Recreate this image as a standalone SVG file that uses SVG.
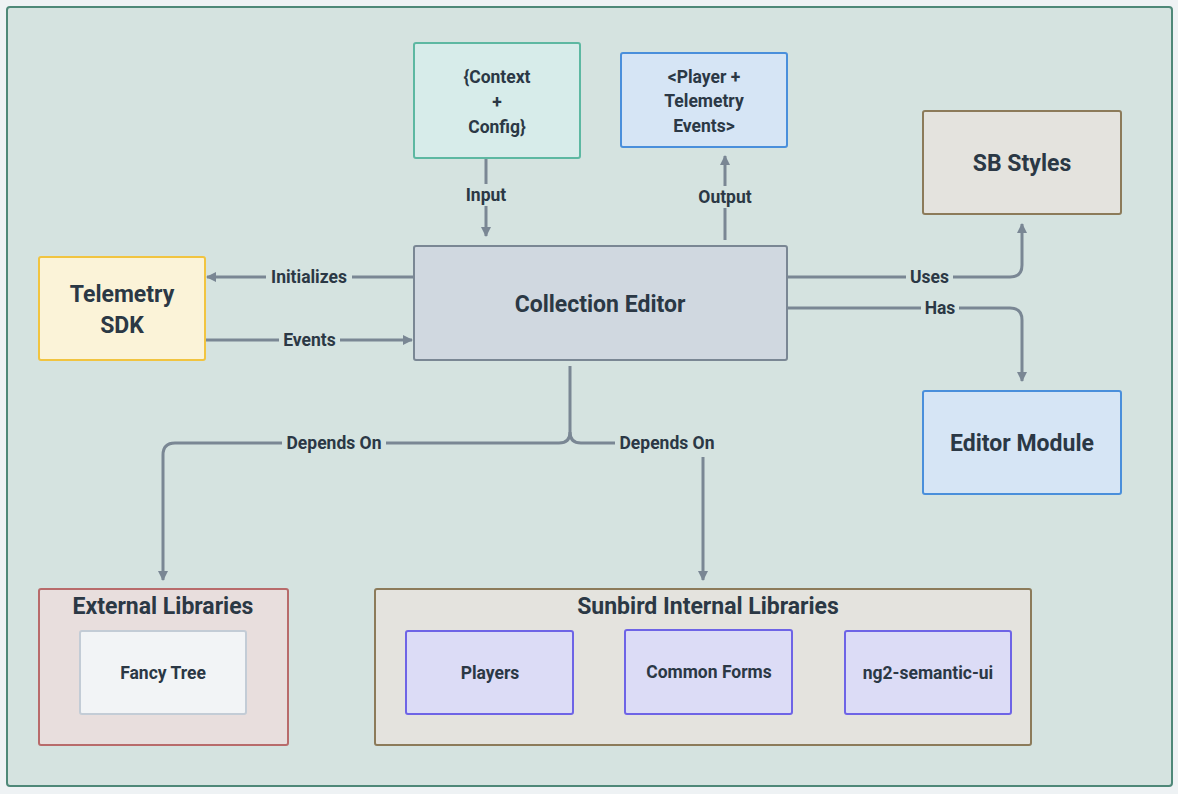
<svg xmlns="http://www.w3.org/2000/svg" width="1178" height="794" viewBox="0 0 1178 794">
<defs>
<marker id="ah" viewBox="0 0 10 10" refX="9" refY="5" markerWidth="10" markerHeight="10" markerUnits="userSpaceOnUse" orient="auto">
<path d="M0,0 L10,5 L0,10 z" fill="#7a8794"/>
</marker>
<style>
text{font-family:"Roboto","Lato","Liberation Sans",sans-serif;font-weight:700;fill:#2b3845;text-anchor:middle;dominant-baseline:central}
.t20{font-size:23px}
.t15{font-size:17.5px}
.t16{font-size:17.5px}
.lbl{font-size:17.5px}
.lb{fill:#d5e3e0}
.c{fill:none;stroke:#7a8794;stroke-width:3}
.n{stroke-width:2}
</style>
</defs>
<rect x="0" y="0" width="1178" height="794" fill="#eef2f4"/>
<rect id="frame" x="7" y="7" width="1165" height="779" rx="3" fill="#d5e3e0" stroke="#4e8878" stroke-width="2"/>

<g id="connectors">
<path class="c" d="M486,150 V236" marker-end="url(#ah)"/>
<path class="c" d="M725,240 V156" marker-end="url(#ah)"/>
<path class="c" d="M414,277 H207" marker-end="url(#ah)"/>
<path class="c" d="M205,340 H412" marker-end="url(#ah)"/>
<path class="c" d="M787,277 H1010 Q1022,277 1022,265 V224" marker-end="url(#ah)"/>
<path class="c" d="M787,308 H1010 Q1022,308 1022,320 V381" marker-end="url(#ah)"/>
<path class="c" d="M570,366 V432 Q570,443 559,443 H175 Q163,443 163,455 V580" marker-end="url(#ah)"/>
<path class="c" d="M570,432 Q570,443 581,443 H703 V580" marker-end="url(#ah)"/>
<rect class="lb" x="461" y="184" width="50" height="22"/>
<text class="lbl" x="486" y="195">Input</text>
<rect class="lb" x="695" y="186" width="60" height="22"/>
<text class="lbl" x="725" y="197">Output</text>
<rect class="lb" x="266" y="266" width="86" height="22"/>
<text class="lbl" x="309" y="277">Initializes</text>
<rect class="lb" x="279" y="329" width="61" height="22"/>
<text class="lbl" x="309.5" y="340">Events</text>
<rect class="lb" x="906" y="266" width="47" height="22"/>
<text class="lbl" x="929.5" y="277">Uses</text>
<rect class="lb" x="921" y="297" width="38" height="22"/>
<text class="lbl" x="940" y="308">Has</text>
<rect class="lb" x="282" y="432" width="104" height="22"/>
<text class="lbl" x="334" y="443">Depends On</text>
<rect class="lb" x="615" y="432" width="104" height="25"/>
<text class="lbl" x="667" y="443">Depends On</text>
</g>

<g id="context">
<rect class="n" x="414" y="43" width="166" height="115" rx="2" fill="#d7ecea" stroke="#5db8a2"/>
<text class="t15" x="497" y="77">{Context</text>
<text class="t15" x="497" y="102">+</text>
<text class="t15" x="497" y="127">Config}</text>
</g>

<g id="player-events">
<rect class="n" x="621" y="53" width="166" height="94" rx="2" fill="#d6e5f5" stroke="#4a8fdb"/>
<text class="t15" x="704" y="77">&lt;Player +</text>
<text class="t15" x="704" y="101">Telemetry</text>
<text class="t15" x="704" y="126">Events&gt;</text>
</g>

<g id="sb-styles">
<rect class="n" x="923" y="111" width="198" height="103" rx="2" fill="#e4e3de" stroke="#8c7b5a"/>
<text class="t20" x="1022" y="163">SB Styles</text>
</g>

<g id="editor-module">
<rect class="n" x="923" y="391" width="198" height="103" rx="2" fill="#d6e5f5" stroke="#4a8fdb"/>
<text class="t20" x="1022" y="443">Editor Module</text>
</g>

<g id="telemetry-sdk">
<rect class="n" x="39" y="257" width="166" height="103" rx="2" fill="#fbf3d8" stroke="#f1c440"/>
<text class="t20" x="122" y="294">Telemetry</text>
<text class="t20" x="122" y="325">SDK</text>
</g>

<g id="collection-editor">
<rect class="n" x="414" y="246" width="373" height="114" rx="2" fill="#d0d8e0" stroke="#7a8794"/>
<text class="t20" x="600" y="304">Collection Editor</text>
</g>

<g id="external-libraries">
<rect class="n" x="39" y="589" width="249" height="156" rx="2" fill="#e8dedd" stroke="#b86b6b"/>
<text class="t20" x="163" y="606">External Libraries</text>
<g id="fancy-tree">
<rect class="n" x="80" y="631" width="166" height="83" rx="2" fill="#f2f4f6" stroke="#c3ccd6"/>
<text class="t16" x="163" y="673">Fancy Tree</text>
</g>
</g>

<g id="sunbird-internal-libraries">
<rect class="n" x="375" y="589" width="656" height="156" rx="2" fill="#e4e3de" stroke="#8c7b5a"/>
<text class="t20" x="708" y="606">Sunbird Internal Libraries</text>
<g id="players">
<rect class="n" x="406" y="631" width="167" height="83" rx="2" fill="#dcdcf6" stroke="#6e64e6"/>
<text class="t16" x="490" y="673">Players</text>
</g>
<g id="common-forms">
<rect class="n" x="625" y="630" width="167" height="84" rx="2" fill="#dcdcf6" stroke="#6e64e6"/>
<text class="t16" x="709" y="672">Common Forms</text>
</g>
<g id="ng2-semantic-ui">
<rect class="n" x="845" y="631" width="166" height="83" rx="2" fill="#dcdcf6" stroke="#6e64e6"/>
<text class="t16" x="928" y="673">ng2-semantic-ui</text>
</g>
</g>
</svg>
